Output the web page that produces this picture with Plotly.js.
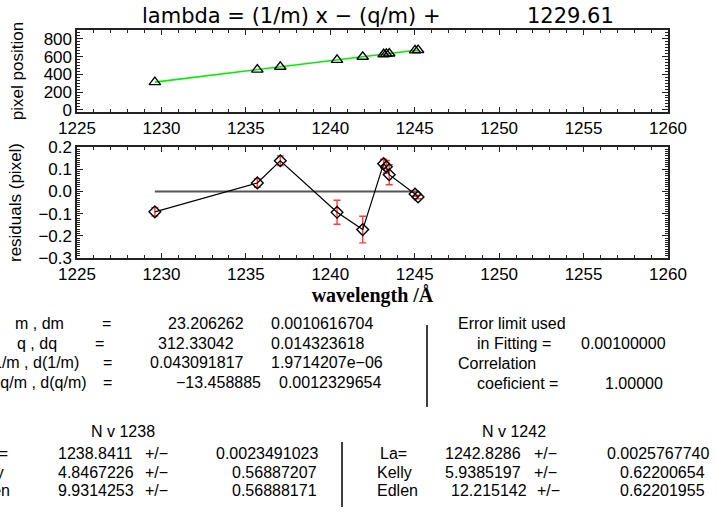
<!DOCTYPE html>
<html><head><meta charset="utf-8">
<script src="https://cdn.plot.ly/plotly-3.0.1.min.js"></script>
<style>html,body{margin:0;padding:0;background:#fff}</style>
</head><body><div id="chart" style="width:717px;height:515px"></div>
<script>
// ---- data ----
const wavelength = [1229.61, 1235.68, 1237.04, 1240.40, 1241.92, 1243.16, 1243.32, 1243.49, 1245.02, 1245.20];
const pixelPos   = [312.2, 453.2, 484.9, 562.6, 597.8, 626.9, 630.6, 634.5, 669.9, 674.1];
const fitX = [1229.61, 1245.20];
const fitY = [312.3, 674.1];
const residuals = [-0.092, 0.038, 0.138, -0.094, -0.172, 0.125, 0.111, 0.075, -0.012, -0.025];
const residErr  = [0.019, 0.019, 0.022, 0.054, 0.06, 0.02, 0.028, 0.045, 0.01, 0.008];
const zeroX = [1229.61, 1245.20];
const zeroY = [0, 0];
const xTicks = [1225, 1230, 1235, 1240, 1245, 1250, 1255, 1260];
const yTicksTop = [0, 200, 400, 600, 800];
const yTicksBottom = [-0.3, -0.2, -0.1, 0.0, 0.1, 0.2];

const titleLeft = "lambda = (1/m) x \u2212 (q/m) +";
const titleRight = "1229.61";
const paramNames  = ["m , dm", "q , dq", "1/m , d(1/m)", "\u2212q/m , d(q/m)"];
const paramValues = ["23.206262", "312.33042", "0.043091817", "\u221213.458885"];
const paramErrors = ["0.0010616704", "0.014323618", "1.9714207e\u221206", "0.0012329654"];
const fitInfo = ["Error limit used", "in Fitting =", "0.00100000", "Correlation", "coeficient =", "1.00000"];
const lineNames = ["N v 1238", "N v 1242"];
const rowLabels = ["La=", "Kelly", "Edlen"];
const line1238 = ["1238.8411", "4.8467226", "9.9314253"];
const err1238  = ["0.0023491023", "0.56887207", "0.56888171"];
const line1242 = ["1242.8286", "5.9385197", "12.215142"];
const err1242  = ["0.0025767740", "0.62200654", "0.62201955"];

// ---- geometry helpers (pixel -> paper) ----
const L = 77, R = 668, T = 30, B = 258;
const px = X => (X - L) / (R - L);
const py = Y => (B - Y) / (B - T);
const FONT = "Liberation Sans, Arial, sans-serif";
const TFONT = "DejaVu Sans, sans-serif";
const txtFont = {family: FONT, size: 16, color: "#000"};

function ann(text, X, Y, anchor) {
  return {text: text, x: px(X), y: py(Y), xref: "paper", yref: "paper",
          xanchor: anchor || "left", yanchor: "middle", showarrow: false, font: txtFont};
}

const annotations = [];
// title
annotations.push({text: titleLeft, x: px(140), y: py(16), xref:"paper", yref:"paper", xanchor:"left", yanchor:"middle", showarrow:false, font:{family:TFONT,size:21,color:"#000"}});
annotations.push({text: titleRight, x: px(525), y: py(16), xref:"paper", yref:"paper", xanchor:"left", yanchor:"middle", showarrow:false, font:{family:TFONT,size:21,color:"#000"}});

// fit parameter block
const rowsY = [323, 343, 362, 382];
const nameX = [13, 15, -9, -11];
const eqX = [100, 93, 101, 101];
const valX = [166, 156, 148, 174];
const errX = [269, 269, 269, 277];
for (let i = 0; i < 4; i++) {
  annotations.push(ann(paramNames[i], nameX[i], rowsY[i]));
  annotations.push(ann("=", eqX[i], rowsY[i]));
  annotations.push(ann(paramValues[i], valX[i], rowsY[i]));
  annotations.push(ann(paramErrors[i], errX[i], rowsY[i]));
}
annotations.push(ann(fitInfo[0], 456, 323));
annotations.push(ann(fitInfo[1], 475, 343));
annotations.push(ann(fitInfo[2], 579, 343));
annotations.push(ann(fitInfo[3], 456, 363));
annotations.push(ann(fitInfo[4], 475, 383));
annotations.push(ann(fitInfo[5], 603, 383));

// line blocks
annotations.push(ann(lineNames[0], 89, 431));
annotations.push(ann(lineNames[1], 480, 431));
const blockY = [453, 472, 490];
const v1238X = [56, 56, 56];
const p1238X = [143, 143, 143];
const e1238X = [214, 230, 230];
const v1242X = [443, 443, 449];
const p1242X = [532, 532, 535];
const e1242X = [605, 618, 618];
const lab1X = [-21, -33, -33];
const lab2X = [378, 375, 375];
for (let i = 0; i < 3; i++) {
  annotations.push(ann(rowLabels[i], lab1X[i], blockY[i]));
  annotations.push(ann(line1238[i], v1238X[i], blockY[i]));
  annotations.push(ann("+/\u2212", p1238X[i], blockY[i]));
  annotations.push(ann(err1238[i], e1238X[i], blockY[i]));
  annotations.push(ann(rowLabels[i], lab2X[i], blockY[i]));
  annotations.push(ann(line1242[i], v1242X[i], blockY[i]));
  annotations.push(ann("+/\u2212", p1242X[i], blockY[i]));
  annotations.push(ann(err1242[i], e1242X[i], blockY[i]));
}

const shapes = [
  {type:"line", xref:"paper", yref:"paper", x0:px(427), x1:px(427), y0:py(325), y1:py(407), line:{color:"#000", width:1.5}},
  {type:"line", xref:"paper", yref:"paper", x0:px(342), x1:px(342), y0:py(442), y1:py(507), line:{color:"#000", width:1.5}}
];

const traces = [
  {x: fitX, y: fitY, xaxis:"x", yaxis:"y", mode:"lines", line:{color:"#00ee00", width:1.6}, hoverinfo:"skip"},
  {x: wavelength, y: pixelPos, xaxis:"x", yaxis:"y", mode:"markers",
   marker:{symbol:"triangle-up-open", size:10, color:"#000", line:{width:1.4, color:"#000"}}},
  {x: zeroX, y: zeroY, xaxis:"x2", yaxis:"y2", mode:"lines", line:{color:"#555", width:2}},
  {x: wavelength, y: residuals, xaxis:"x2", yaxis:"y2", mode:"lines+markers",
   line:{color:"#000", width:1.2},
   marker:{symbol:"diamond-open", size:9, color:"#000", line:{width:1.4, color:"#000"}},
   error_y:{type:"data", array: residErr, visible:true, color:"#ff3b3b", thickness:1.4, width:3.5}}
];

const axisBase = {
  showline:true, linecolor:"#222", linewidth:1.6, mirror:"ticks", ticks:"inside",
  tickcolor:"#222", tickwidth:1, showgrid:false, zeroline:false,
  tickfont:{family:FONT, size:17, color:"#000"}
};

const layout = {
  width:717, height:515, paper_bgcolor:"#fff", plot_bgcolor:"#fff",
  margin:{l:L, r:717-R, t:T, b:515-B}, showlegend:false,
  xaxis: Object.assign({}, axisBase, {anchor:"y", domain:[0,1], range:[1225,1260], tickmode:"array", tickvals:xTicks,
    ticklen:5, minor:{dtick:1, ticklen:3, ticks:"inside", tickcolor:"#222"}}),
  xaxis2: Object.assign({}, axisBase, {anchor:"y2", domain:[0,1], range:[1225,1260], tickmode:"array", tickvals:xTicks,
    ticklen:5, minor:{dtick:1, ticklen:3, ticks:"inside", tickcolor:"#222"},
    title:{text:"wavelength /\u00C5", font:{family:"Liberation Serif, serif", size:20, color:"#000", weight:"bold"}, standoff:5}}),
  yaxis: Object.assign({}, axisBase, {anchor:"x", domain:[py(112),1], range:[-25,900], tickmode:"array", tickvals:yTicksTop,
    ticklen:6, minor:{tick0:0, dtick:200/6, ticklen:3, ticks:"inside", tickcolor:"#222"},
    title:{text:"pixel position", font:{family:FONT, size:17, color:"#000"}, standoff:15}}),
  yaxis2: Object.assign({}, axisBase, {anchor:"x2", domain:[0,py(147)], range:[-0.3,0.2], tickmode:"array", tickvals:yTicksBottom,
    tickformat:".1f", ticklen:6, minor:{tick0:0, dtick:0.01, ticklen:3, ticks:"inside", tickcolor:"#222"},
    title:{text:"residuals (pixel)", font:{family:FONT, size:17, color:"#000"}, standoff:12}}),
  annotations: annotations, shapes: shapes
};

Plotly.newPlot("chart", traces, layout, {staticPlot:true, displayModeBar:false});
</script>
</body></html>
